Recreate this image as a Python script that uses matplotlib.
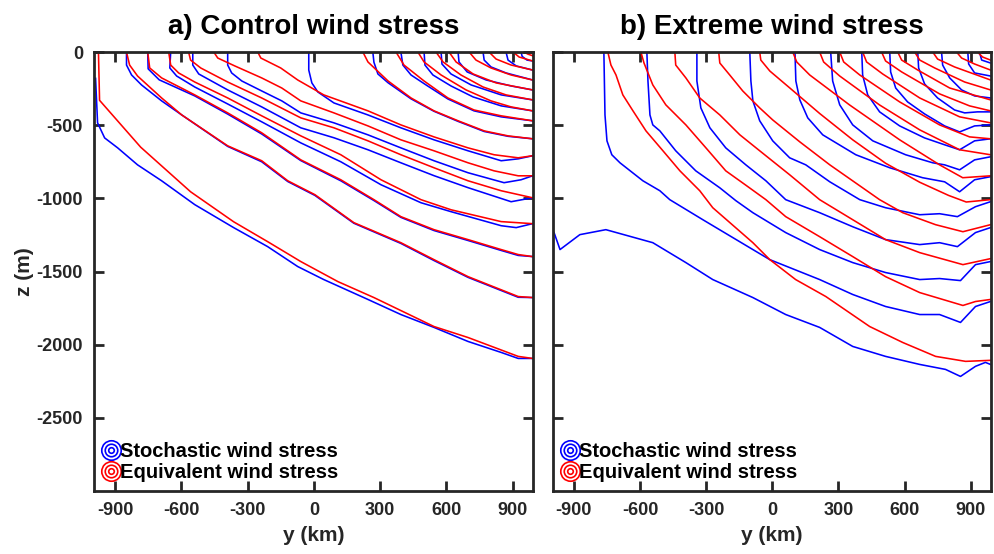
import matplotlib.pyplot as plt
from matplotlib.lines import Line2D
from matplotlib.legend_handler import HandlerTuple

# isopycnal depths: each contour is a list of (y km, z m)

# a) control wind stress
ctrl_red = [
    [(-975, 0), (-970, -330), (-784, -650), (-558, -955), (-363, -1160), (-209, -1296), (-59, -1432),
     (109, -1569), (272, -1678), (544, -1876), (698, -1951), (925, -2080), (990, -2094)],
    [(-848, 0), (-834, -89), (-798, -164), (-689, -314), (-598, -430), (-390, -641), (-236, -743),
     (-118, -880), (5, -975), (181, -1166), (394, -1303), (544, -1419), (698, -1535), (925, -1671), (990, -1678)],
    [(-752, 0), (-743, -109), (-689, -177), (-539, -293), (-390, -416), (-236, -552), (-59, -737),
     (122, -873), (272, -1009), (394, -1125), (544, -1214), (698, -1282), (848, -1350), (925, -1384), (990, -1398)],
    [(-657, 0), (-648, -89), (-612, -143), (-539, -205), (-390, -314), (-236, -436), (-59, -573),
     (122, -702), (304, -873), (485, -1009), (621, -1078), (848, -1159), (990, -1173)],
    [(-567, 0), (-558, -55), (-512, -109), (-390, -205), (-236, -314), (-59, -450), (91, -518),
     (245, -607), (394, -702), (544, -791), (698, -880), (848, -948), (990, -996)],
    [(-453, 0), (-435, -41), (-358, -95), (-236, -177), (-145, -246), (-59, -334), (91, -416),
     (245, -505), (394, -600), (544, -675), (698, -757), (816, -812), (925, -846), (990, -846)],
    [(-254, 0), (-240, -41), (-150, -109), (-73, -191), (45, -293), (245, -402), (394, -498),
     (544, -580), (698, -655), (816, -702), (925, -723), (990, -709)],
    [(222, 0), (245, -68), (336, -198), (440, -314), (544, -402), (653, -470), (771, -539), (879, -573), (990, -593)],
    [(372, 0), (408, -89), (499, -198), (607, -314), (725, -396), (848, -436), (990, -470)],
    [(471, 0), (499, -68), (576, -157), (689, -259), (802, -334), (893, -375), (990, -402)],
    [(553, 0), (585, -68), (666, -157), (766, -239), (870, -293), (990, -327)],
    [(612, 0), (644, -68), (721, -150), (825, -211), (990, -259)],
    [(703, 0), (734, -55), (802, -109), (893, -157), (990, -191)],
    [(793, 0), (825, -48), (893, -89), (990, -123)],
    [(902, 0), (929, -34), (990, -61)],
    [(950, 0), (970, -15), (990, -25)],
]
ctrl_blue = [
    [(-988, -180), (-979, -484), (-947, -587), (-888, -655), (-798, -771), (-689, -880), (-539, -1043),
     (-363, -1200), (-209, -1330), (-73, -1466), (45, -1555), (245, -1691), (394, -1794), (544, -1882),
     (698, -1978), (848, -2053), (925, -2094), (990, -2094)],
    [(-848, 0), (-848, -89), (-825, -157), (-780, -225), (-689, -334), (-598, -430), (-390, -645),
     (-236, -750), (-118, -885), (5, -980), (181, -1170), (394, -1308), (544, -1425), (698, -1540),
     (925, -1676), (990, -1678)],
    [(-752, 0), (-750, -115), (-700, -190), (-539, -300), (-390, -424), (-236, -560), (-59, -742),
     (122, -880), (272, -1015), (394, -1130), (544, -1220), (698, -1288), (848, -1356), (925, -1390), (990, -1398)],
    [(-648, 0), (-652, -109), (-621, -164), (-539, -239), (-390, -355), (-236, -477), (-59, -621),
     (122, -750), (304, -907), (485, -1030), (621, -1091), (848, -1187), (916, -1200), (990, -1173)],
    [(-548, 0), (-548, -89), (-521, -150), (-390, -259), (-236, -375), (-59, -518), (91, -586),
     (245, -668), (394, -757), (544, -845), (698, -927), (893, -1023), (990, -996)],
    [(-390, 0), (-390, -89), (-372, -143), (-326, -198), (-236, -266), (-145, -334), (-59, -416),
     (91, -484), (245, -566), (394, -655), (544, -743), (698, -825), (861, -893), (938, -873), (990, -846)],
    [(-23, 0), (-23, -123), (-9, -211), (18, -273), (91, -348), (245, -430), (394, -518),
     (544, -600), (698, -675), (848, -743), (925, -730), (990, -709)],
    [(267, 0), (272, -70), (290, -150), (336, -210), (440, -320), (544, -405), (653, -474), (771, -543),
     (879, -576), (990, -593)],
    [(394, 0), (403, -89), (440, -157), (508, -225), (607, -321), (725, -402), (848, -443), (990, -470)],
    [(499, 0), (503, -89), (539, -157), (621, -232), (721, -307), (848, -368), (990, -402)],
    [(576, 0), (580, -82), (621, -150), (712, -225), (848, -293), (990, -327)],
    [(653, 0), (657, -68), (694, -136), (780, -191), (893, -232), (990, -259)],
    [(766, 0), (771, -55), (802, -102), (870, -143), (990, -191)],
    [(870, 0), (879, -55), (916, -95), (990, -123)],
    [(938, 0), (943, -30), (965, -55), (990, -61)],
]

# b) extreme wind stress
ext_red = [
    [(-746, 0), (-732, -89), (-709, -157), (-678, -293), (-632, -402), (-573, -539), (-496, -675),
     (-419, -812), (-329, -948), (-270, -1064), (-88, -1303), (-11, -1419), (106, -1555), (243, -1671),
     (442, -1876), (592, -1985), (741, -2080), (877, -2114), (990, -2107)],
    [(-596, 0), (-582, -75), (-542, -225), (-483, -361), (-392, -498), (-301, -655), (-211, -812),
     (-120, -910), (-29, -1009), (61, -1125), (215, -1262), (365, -1398), (514, -1535), (669, -1644),
     (865, -1732), (922, -1705), (990, -1691)],
    [(-442, 0), (-438, -89), (-392, -177), (-329, -314), (-238, -430), (-147, -566), (-57, -675),
     (79, -839), (215, -1009), (365, -1146), (514, -1282), (669, -1371), (865, -1453), (990, -1412)],
    [(-243, 0), (-238, -75), (-193, -157), (-134, -266), (-57, -382), (2, -464), (125, -614),
     (261, -771), (487, -1009), (592, -1098), (741, -1180), (865, -1228), (990, -1180)],
    [(-57, 0), (-52, -55), (-11, -130), (79, -245), (215, -420), (365, -600), (514, -760),
     (669, -890), (800, -980), (880, -1025), (990, -1009)],
    [(93, 0), (111, -68), (170, -157), (351, -362), (578, -600), (759, -771), (864, -859), (990, -846)],
    [(215, 0), (233, -68), (306, -164), (487, -362), (669, -532), (850, -668), (990, -702)],
    [(306, 0), (324, -68), (397, -157), (578, -341), (759, -498), (895, -580), (990, -593)],
    [(410, 0), (428, -68), (501, -150), (669, -314), (850, -443), (990, -484)],
    [(496, 0), (514, -61), (587, -136), (759, -286), (895, -368), (990, -402)],
    [(569, 0), (587, -55), (660, -123), (805, -246), (990, -327)],
    [(646, 0), (669, -55), (737, -109), (873, -205), (990, -259)],
    [(728, 0), (750, -48), (827, -102), (990, -191)],
    [(836, 0), (859, -41), (918, -82), (990, -123)],
    [(931, 0), (954, -34), (990, -55)],
]
ext_blue = [
    [(-990, -1234), (-963, -1350), (-873, -1248), (-755, -1214), (-542, -1303), (-392, -1439), (-270, -1555),
     (-88, -1678), (61, -1794), (215, -1882), (365, -2012), (514, -2080), (669, -2135), (786, -2169),
     (854, -2217), (922, -2148), (967, -2121), (990, -2135)],
    [(-764, 0), (-759, -430), (-750, -607), (-728, -702), (-691, -757), (-587, -880), (-510, -948),
     (-465, -1009), (-315, -1146), (-88, -1350), (-11, -1419), (215, -1555), (365, -1657), (514, -1739),
     (669, -1794), (759, -1794), (854, -1848), (922, -1739), (990, -1705)],
    [(-569, 0), (-564, -198), (-555, -430), (-542, -498), (-510, -539), (-438, -675), (-347, -812),
     (-238, -928), (-165, -1016), (-88, -1098), (61, -1234), (215, -1350), (365, -1439), (514, -1507),
     (669, -1555), (759, -1548), (854, -1562), (922, -1453), (990, -1432)],
    [(-342, 0), (-342, -198), (-324, -382), (-283, -518), (-211, -655), (-120, -771), (-29, -880),
     (61, -1009), (215, -1098), (365, -1194), (514, -1282), (669, -1316), (759, -1303), (840, -1330),
     (922, -1234), (990, -1200)],
    [(-102, 0), (-97, -198), (-88, -334), (-57, -470), (2, -607), (79, -723), (152, -771), (261, -887),
     (397, -1009), (514, -1064), (669, -1112), (759, -1105), (840, -1125), (922, -1057), (990, -1023)],
    [(103, 0), (107, -198), (125, -327), (161, -450), (229, -566), (379, -702), (533, -791), (682, -859),
     (782, -887), (850, -955), (918, -873), (990, -852)],
    [(265, 0), (274, -198), (306, -361), (365, -498), (456, -607), (605, -702), (728, -757), (782, -771),
     (850, -805), (918, -737), (990, -716)],
    [(406, 0), (410, -157), (433, -293), (487, -409), (578, -505), (691, -587), (782, -634), (850, -668),
     (918, -607), (990, -593)],
    [(533, 0), (537, -136), (560, -246), (614, -341), (691, -423), (782, -505), (850, -546), (918, -505),
     (990, -498)],
    [(660, 0), (664, -109), (691, -218), (750, -314), (827, -396), (873, -416), (931, -409), (990, -409)],
    [(768, 0), (773, -89), (805, -177), (859, -259), (918, -300), (990, -314)],
    [(887, 0), (891, -82), (918, -143), (990, -164)],
    [(940, 0), (950, -55), (990, -75)],
]

yticks = [-900, -600, -300, 0, 300, 600, 900]
zticks = [0, -500, -1000, -1500, -2000, -2500]
titles = ['a) Control wind stress', 'b) Extreme wind stress']
legend_labels = ['Stochastic wind stress', 'Equivalent wind stress']

plt.rcParams['font.family'] = ['Liberation Sans', 'DejaVu Sans']
plt.rcParams['font.weight'] = 'bold'
plt.rcParams['axes.unicode_minus'] = False

fig = plt.figure(figsize=(9.94, 5.54), dpi=100)
ax1 = fig.add_axes([0.0946, 0.1137, 0.4416, 0.7924])
ax2 = fig.add_axes([0.5563, 0.1137, 0.4406, 0.7924])

panels = [(ax1, ctrl_blue, ctrl_red), (ax2, ext_blue, ext_red)]
for i, (ax, blues, reds) in enumerate(panels):
    for c in blues:
        ax.plot([p[0] for p in c], [p[1] for p in c], color='#0000ff', lw=1.15)
    for c in reds:
        ax.plot([p[0] for p in c], [p[1] for p in c], color='#ff0000', lw=1.15)

    ax.set_xlim(-995, 992)
    ax.set_ylim(-3000, 0)
    ax.set_xticks(yticks)
    ax.set_xticklabels([str(v) for v in yticks], fontsize=13, fontweight='bold', color='#262626')
    ax.set_yticks(zticks)
    if i == 0:
        ax.set_yticklabels([str(v) for v in zticks], fontsize=13, fontweight='bold', color='#262626')
        ax.set_ylabel('z (m)', fontsize=15, fontweight='bold', color='#262626', labelpad=2)
    else:
        ax.set_yticklabels([])
    ax.set_xlabel('y (km)', fontsize=15, fontweight='bold', color='#262626', labelpad=5)
    ax.set_title(titles[i], fontsize=20, fontweight='bold', pad=13)
    ax.tick_params(direction='in', length=7, width=2, top=True, right=True, color='#262626', pad=8)
    for s in ax.spines.values():
        s.set_linewidth(2)
        s.set_color('#262626')

    handles = []
    for col in ['#0000ff', '#ff0000']:
        rings = tuple(Line2D([], [], ls='none', marker='o', ms=ms, mfc='none', mec=col, mew=1.2)
                      for ms in [14, 9, 4])
        handles.append(rings)
    ax.legend(handles, legend_labels, handler_map={tuple: HandlerTuple(ndivide=1)},
              loc='lower left', frameon=False, handlelength=0.8, handletextpad=0.05,
              borderaxespad=0.05, labelspacing=0.1, prop={'weight': 'bold', 'size': 14.5})

fig.savefig('out.png', dpi=100)
